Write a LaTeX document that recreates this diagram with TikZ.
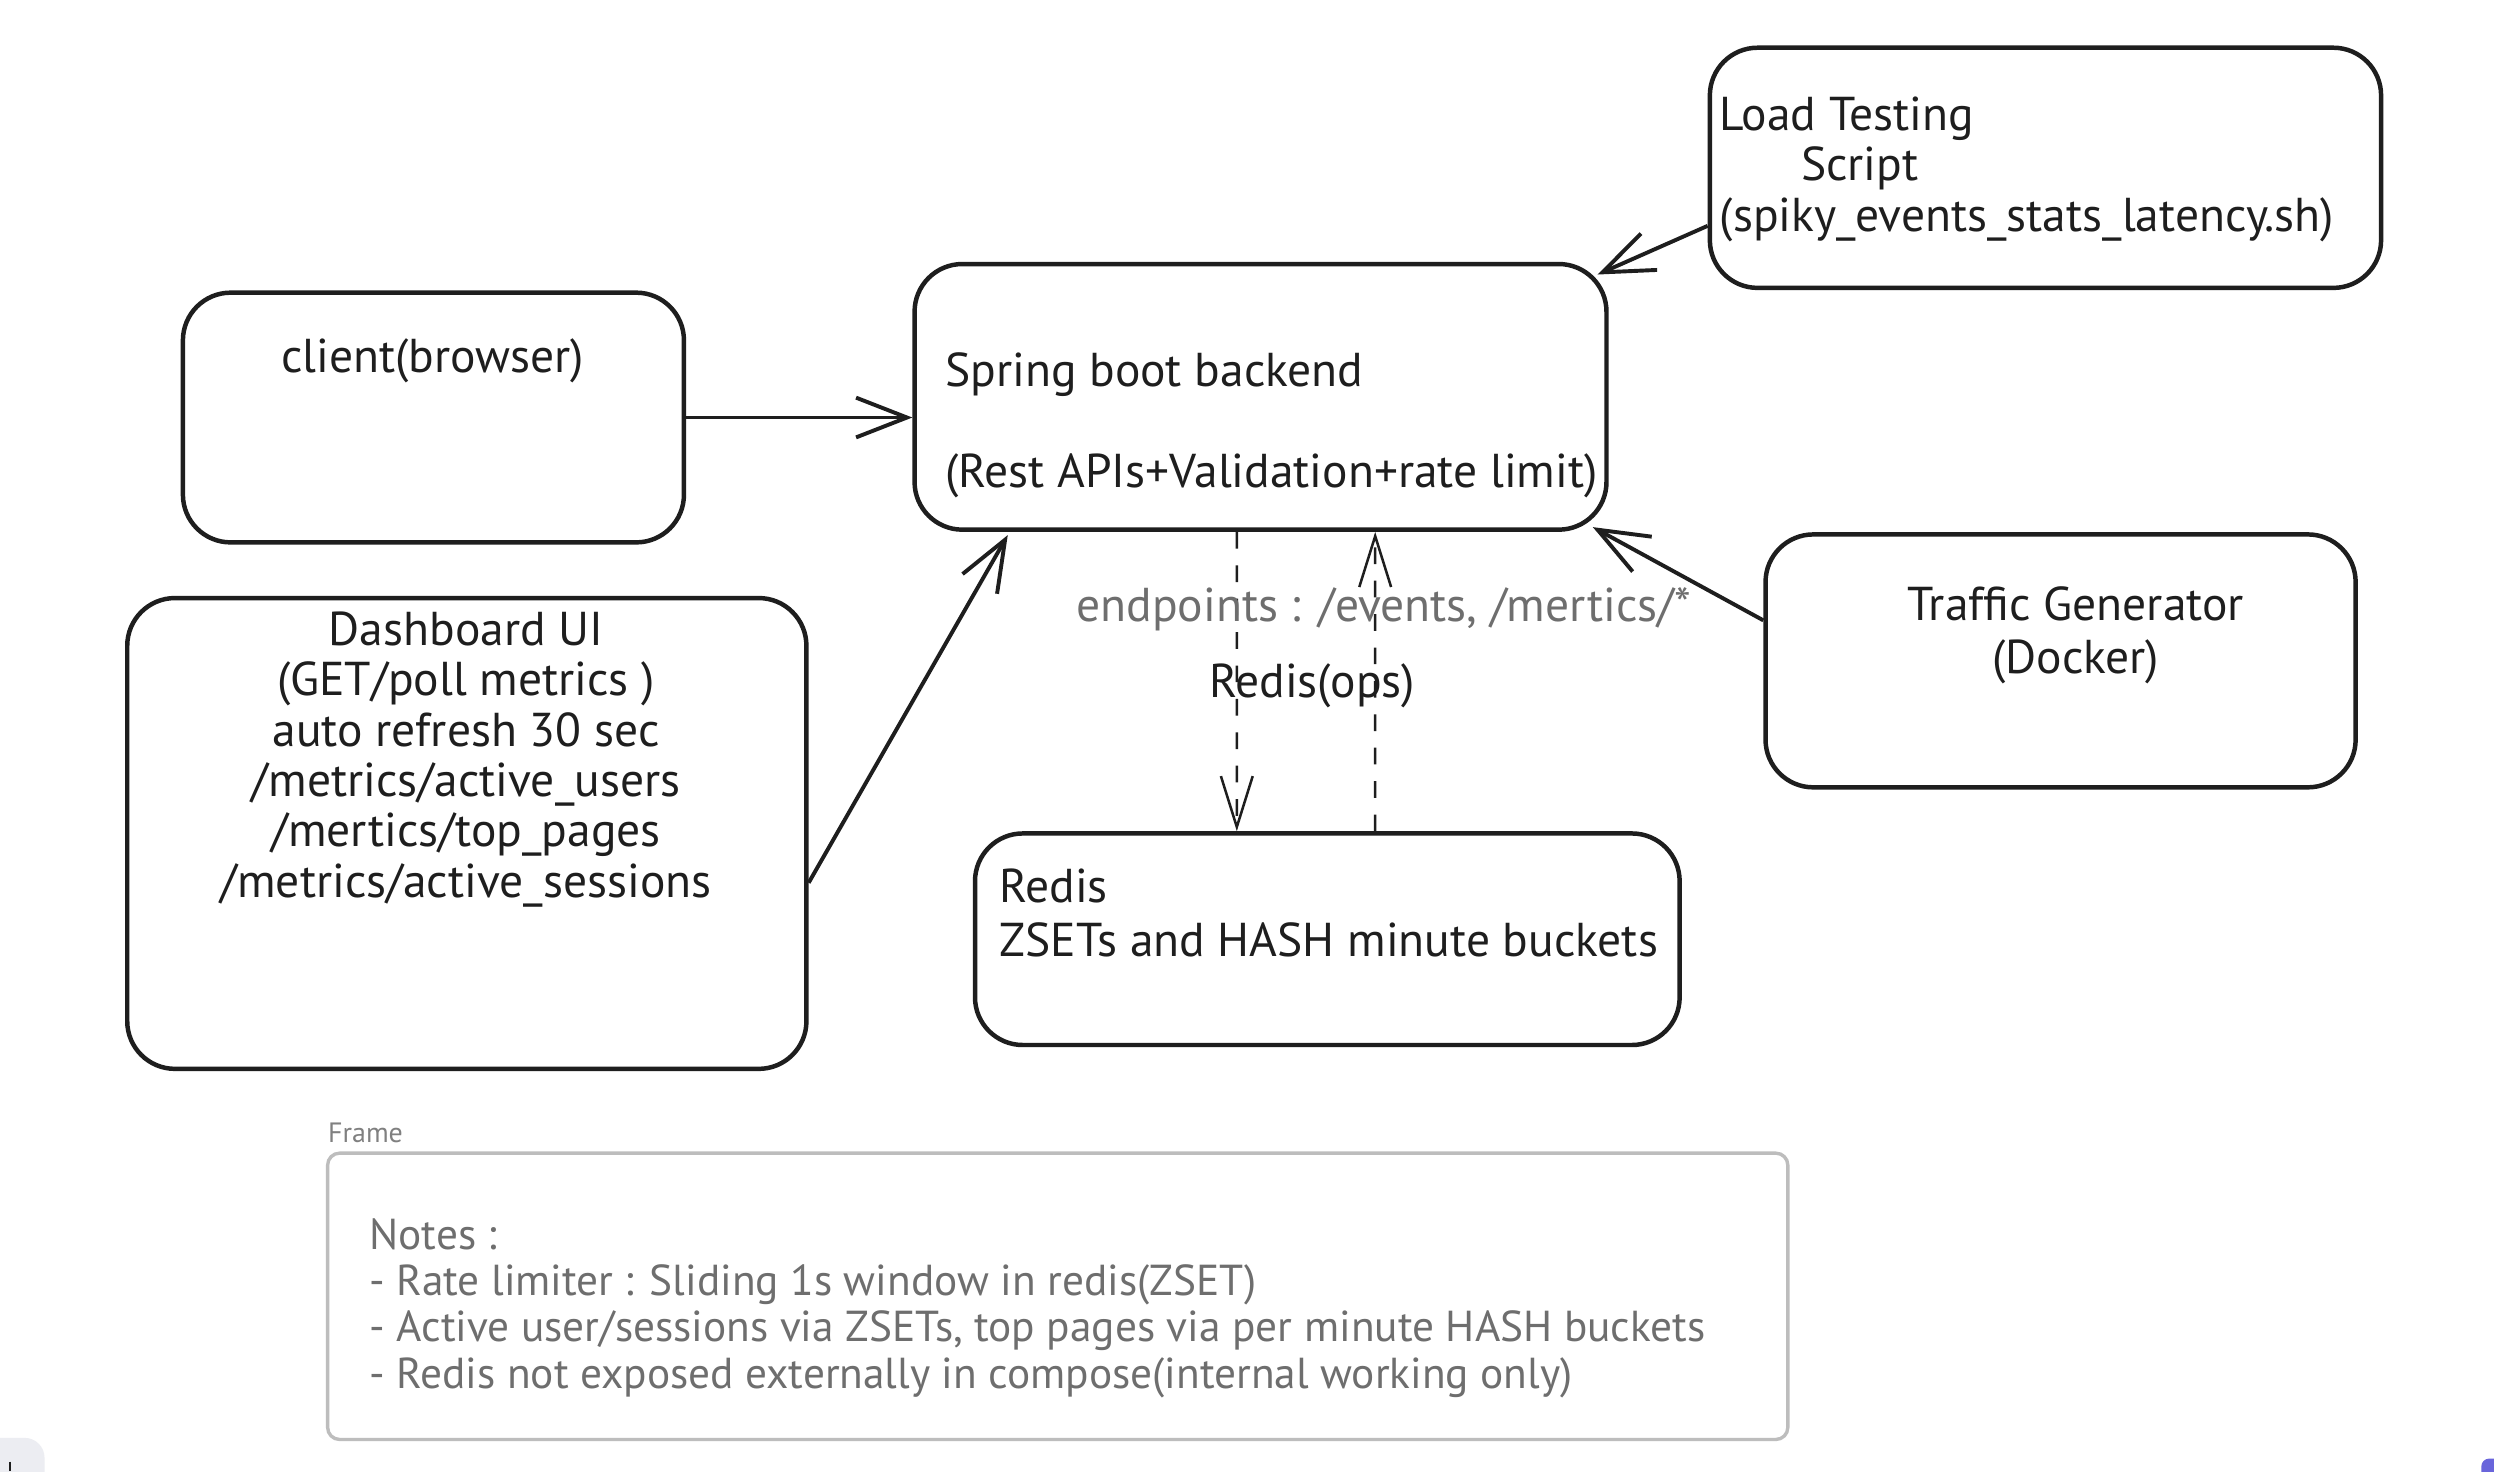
\documentclass[tikz,border=0pt]{standalone}
\usepackage{fontspec}
\setmainfont{PT Sans}
\usepackage{xcolor}
\usetikzlibrary{arrows.meta, positioning, calc}
\definecolor{inkblack}{HTML}{1E1E1E}
\definecolor{notegray}{HTML}{6E6E6E}
\definecolor{framegray}{HTML}{BDBDBD}
\definecolor{uigray}{HTML}{ECEDF2}
\definecolor{uipurple}{HTML}{6965DB}

\begin{document}
\begin{tikzpicture}[x=0.2mm, y=-0.2mm,
        box/.style={draw=inkblack, line width=1.6pt, rounded corners=0.6cm, inner sep=0pt},
        txt/.style={inner sep=0pt, font=\fontsize{17}{18}\selectfont, text=inkblack},
        note/.style={inner sep=0pt, font=\fontsize{15.5}{16.5}\selectfont, text=notegray, align=left},
        flow/.style={draw=inkblack, line width=1.4pt, -{Straight Barb[length=6.4mm, width=5mm]}},
        ops/.style={draw=inkblack, line width=0.9pt, dash pattern=on 2.1mm off 2.1mm, -{Straight Barb[length=6.4mm, width=4mm]}}
    ]
        % Page
        \fill[white] (0,0) rectangle (1568,925);
        \useasboundingbox (0,0) rectangle (1568,925);

        % Boxes
        \node[box, minimum width=6.3cm, minimum height=3.14cm] (client) at (272.5,262.5) {};
        \node[box, minimum width=8.7cm, minimum height=3.34cm] (spring) at (792.5,249.5) {};
        \node[box, minimum width=8.44cm, minimum height=3.02cm] (loadtest) at (1286,105.5) {};
        \node[box, minimum width=8.54cm, minimum height=5.92cm] (dash) at (293.5,524) {};
        \node[box, minimum width=7.42cm, minimum height=3.18cm] (traffic) at (1295.5,415.5) {};
        \node[box, minimum width=8.86cm, minimum height=2.66cm] (redis) at (834.5,590.5) {};

        % Box texts
        \node[txt] (clientText) at (272,227) {client(browser)};
        \node[txt, align=left, anchor=west] (springText) at (594,267.5) {Spring boot backend\\[18pt](Rest APIs+Validation+rate limit)};
        \node[txt, align=left, anchor=west] (loadText) at (1081,106.5) {Load Testing\\\hspace*{1.02cm}Script\\(spiky\_events\_stats\_latency.sh)};
        \node[txt, align=center] (dashText) at (293,477.5) {Dashboard UI\\(GET/poll metrics )\\auto refresh 30 sec\\/metrics/active\_users\\/mertics/top\_pages\\/metrics/active\_sessions};
        \node[txt, align=center] (trafficText) at (1305,399.5) {Traffic Generator\\[1pt](Docker)};
        \node[txt, align=left, anchor=west] (redisText) at (628,574) {Redis\\[1pt]ZSETs and HASH minute buckets};

        % Connectors
        \draw[flow] (client.east) -- (client.east -| spring.west);
        \draw[flow] ($(dash.east)+(0,31)$) -- ($(spring.south west)+(60,2)$);
        \draw[flow] ($(loadtest.west)+(0,36.5)$) -- ($(spring.north east)+(-7,8)$);
        \draw[flow] ($(traffic.west)+(0,-25.5)$) -- ($(spring.south east)+(-10,-3)$);
        \draw[ops] ($(spring.south west)+(204,0)$) -- ($(redis.north west)+(166,0)$);
        \draw[ops] ($(redis.north west)+(253,0)$) -- ($(spring.south west)+(291,0)$);

        % Connector labels
        \node[txt, text=notegray] (endpointsLabel) at (870,383) {endpoints : /events, /mertics/*};
        \node[txt] (opsLabel) at (825,431) {Redis(ops)};

        % Notes frame
        \node[inner sep=0pt, anchor=west, font=\fontsize{10}{12}\selectfont, text=gray] (frameLabel) at (206,712) {Frame};
        \node[draw=framegray, line width=1.2pt, rounded corners=0.15cm, minimum width=18.36cm, minimum height=3.6cm] (notes) at (665,815) {};
        \node[note, anchor=west] (notesText) at (232,822.5) {Notes :\\- Rate limiter : Sliding 1s window in redis(ZSET)\\- Active user/sessions via ZSETs, top pages via per minute HASH buckets\\- Redis not exposed externally in compose(internal working only)};

        % Corner widgets
        \fill[uigray, rounded corners=0.25cm] (-20,904) rectangle (28,945);
        \draw[inkblack, line width=0.8pt] (6.5,919) -- (6.5,925);
        \fill[uipurple, rounded corners=0.1cm] (1560,917) rectangle (1580,940);
    \end{tikzpicture}
\end{document}
